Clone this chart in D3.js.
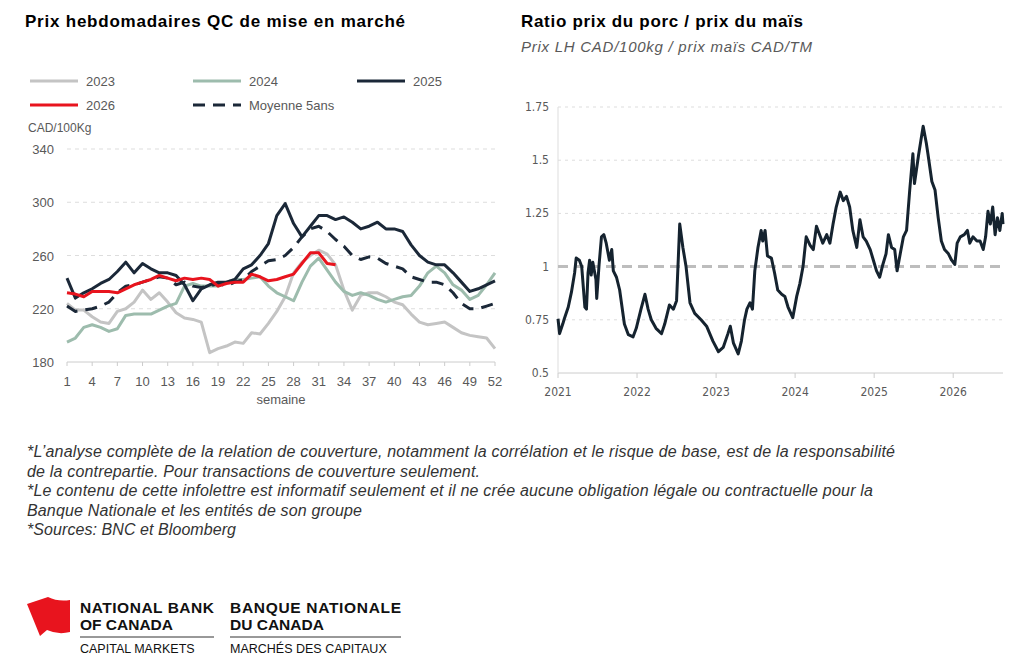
<!DOCTYPE html>
<html><head><meta charset="utf-8">
<script src="https://cdn.jsdelivr.net/npm/d3@7"></script>
<style>body{margin:0;background:#fff;font-family:"Liberation Sans",Arial,sans-serif}</style>
</head><body><svg id="c" width="1024" height="663"></svg>
<script>
const weeks = d3.range(1,53);
const s2023 = [224,219,219,214,210,209,218,220,225,234,227,232,225,217,213,212,210,187,190,192,195,194,202,201,209,218,229,247,255,260,264,261,253,234,219,230,232,232,229,225,223,216,210,208,209,210,206,202,200,199,198,190];
const s2024 = [195,198,206,208,206,203,205,215,216,216,216,219,222,224,237,239,237,237,237,240,242,242,243,244,237,232,229,226,240,252,258,249,240,233,230,232,230,227,225,227,229,230,237,247,252,247,238,234,227,230,238,247];
const s2025 = [243,228,232,235,239,242,248,255,247,254,250,247,247,245,238,226,235,238,240,240,242,250,253,260,269,290,299,284,274,282,290,290,287,289,285,280,282,285,280,280,278,268,260,255,253,253,247,240,233,235,238,241];
const s2026 = [232,231,229,233,233,233,232,235,238,240,242,245,243,241,243,242,243,242,237,239,240,240,246,244,241,242,244,246,254,262,262,254,253];
const sAvg = [222,218,219,220,222,225,232,237,238,240,242,244,243,238,240,237,236,237,239,237,240,242,248,252,256,257,260,266,274,280,282,278,272,267,260,257,259,258,254,252,250,244,242,240,240,238,232,224,220,220,222,224];
const leftTicksY = [180,220,260,300,340];
const leftTicksX = [1,4,7,10,13,16,19,22,25,28,31,34,37,40,43,46,49,52];
const ratioDates = [2021.00,2021.02,2021.06,2021.08,2021.13,2021.17,2021.21,2021.23,2021.27,2021.30,2021.34,2021.36,2021.38,2021.40,2021.42,2021.44,2021.48,2021.49,2021.52,2021.55,2021.58,2021.61,2021.65,2021.68,2021.70,2021.74,2021.78,2021.84,2021.89,2021.95,2021.99,2022.05,2022.10,2022.14,2022.18,2022.24,2022.31,2022.35,2022.41,2022.46,2022.50,2022.54,2022.58,2022.62,2022.67,2022.73,2022.81,2022.88,2022.96,2023.03,2023.09,2023.15,2023.18,2023.22,2023.28,2023.32,2023.36,2023.39,2023.43,2023.46,2023.49,2023.53,2023.57,2023.59,2023.62,2023.65,2023.70,2023.74,2023.78,2023.83,2023.87,2023.91,2023.97,2024.02,2024.06,2024.10,2024.14,2024.19,2024.23,2024.27,2024.31,2024.35,2024.40,2024.44,2024.48,2024.52,2024.57,2024.61,2024.65,2024.69,2024.73,2024.78,2024.82,2024.86,2024.90,2024.95,2024.99,2025.03,2025.07,2025.11,2025.15,2025.18,2025.22,2025.26,2025.29,2025.33,2025.37,2025.41,2025.45,2025.49,2025.51,2025.56,2025.59,2025.62,2025.66,2025.68,2025.73,2025.77,2025.81,2025.85,2025.89,2025.94,2025.98,2026.02,2026.05,2026.09,2026.14,2026.18,2026.21,2026.25,2026.30,2026.34,2026.38,2026.41,2026.44,2026.47,2026.50,2026.53,2026.56,2026.59,2026.62,2026.63];
const ratioValues = [0.755,0.685,0.73,0.755,0.81,0.88,0.97,1.04,1.03,1.0,0.81,0.80,0.97,1.03,0.96,1.02,0.94,0.85,1.01,1.14,1.15,1.11,1.03,1.08,0.98,0.95,0.89,0.73,0.68,0.67,0.71,0.80,0.87,0.80,0.75,0.71,0.685,0.73,0.82,0.80,0.84,1.20,1.09,1.0,0.83,0.78,0.75,0.72,0.65,0.60,0.62,0.685,0.72,0.64,0.59,0.65,0.75,0.80,0.83,0.80,0.98,1.09,1.17,1.12,1.17,1.05,1.04,0.97,0.89,0.87,0.86,0.81,0.76,0.86,0.92,1.0,1.14,1.10,1.08,1.19,1.15,1.11,1.15,1.11,1.20,1.28,1.35,1.31,1.33,1.28,1.17,1.09,1.22,1.14,1.12,1.08,1.03,0.98,0.95,1.01,1.06,1.15,1.09,1.08,0.98,1.06,1.14,1.17,1.36,1.53,1.39,1.52,1.59,1.66,1.58,1.53,1.40,1.36,1.23,1.12,1.08,1.06,1.03,1.01,1.11,1.14,1.15,1.17,1.11,1.14,1.12,1.12,1.08,1.14,1.26,1.20,1.28,1.15,1.23,1.17,1.25,1.20];
const rightTicksY = [0.5,0.75,1,1.25,1.5,1.75];
const rightTicksX = [2021,2022,2023,2024,2025,2026];
const footnotes = ["*L’analyse complète de la relation de couverture, notamment la corrélation et le risque de base, est de la responsabilité","de la contrepartie. Pour transactions de couverture seulement.","*Le contenu de cette infolettre est informatif seulement et il ne crée aucune obligation légale ou contractuelle pour la","Banque Nationale et les entités de son groupe","*Sources: BNC et Bloomberg"];
const footWidths = [868,453,846,335,209];

const svg = d3.select("#c");
const tc = "#595959";
svg.append("text").attr("x",25).attr("y",27).attr("font-size",17).attr("font-weight","bold").attr("textLength",380).text("Prix hebdomadaires QC de mise en marché");
svg.append("text").attr("x",521).attr("y",27).attr("font-size",17).attr("font-weight","bold").attr("textLength",282).text("Ratio prix du porc / prix du maïs");
svg.append("text").attr("x",521).attr("y",52).attr("font-size",15).attr("font-style","italic").attr("fill",tc).attr("textLength",291).text("Prix LH CAD/100kg / prix maïs CAD/TM");

const x1 = d3.scaleLinear().domain([1,52]).range([67,495]);
const y1 = d3.scaleLinear().domain([180,340]).range([362,149]);
const g1 = svg.append("g");
leftTicksY.forEach(v=>{
  if(v>180) g1.append("line").attr("x1",67).attr("x2",495).attr("y1",y1(v)).attr("y2",y1(v)).attr("stroke","#ddd").attr("stroke-dasharray","4,4");
  g1.append("text").attr("x",54).attr("y",y1(v)+5).attr("text-anchor","end").attr("font-size",13).attr("fill",tc).text(v);
});
g1.append("line").attr("x1",67).attr("x2",495).attr("y1",362).attr("y2",362).attr("stroke","#ccc");
leftTicksX.forEach(v=>{
  g1.append("line").attr("x1",x1(v)).attr("x2",x1(v)).attr("y1",362).attr("y2",366).attr("stroke","#ccc");
  g1.append("text").attr("x",x1(v)).attr("y",386).attr("text-anchor","middle").attr("font-size",13).attr("fill",tc).text(v);
});
g1.append("text").attr("x",281).attr("y",404).attr("text-anchor","middle").attr("font-size",13).attr("fill",tc).text("semaine");
g1.append("text").attr("x",28).attr("y",132).attr("font-size",12).attr("fill",tc).text("CAD/100Kg");
const ln = d3.line().x((d,i)=>x1(i+1)).y(d=>y1(d));
const series = [
 {n:"2023",d:s2023,c:"#c4c4c4",da:null,lx:30,ly:81},
 {n:"2024",d:s2024,c:"#9dbcad",da:null,lx:193,ly:81},
 {n:"Moyenne 5ans",d:sAvg,c:"#1b2838",da:"12,8",lx:193,ly:105},
 {n:"2025",d:s2025,c:"#1b2838",da:null,lx:357,ly:81},
 {n:"2026",d:s2026,c:"#e8141e",da:null,lx:30,ly:105}
];
series.forEach(s=>{
  g1.append("path").attr("d",ln(s.d)).attr("fill","none").attr("stroke",s.c).attr("stroke-width",3).attr("stroke-dasharray",s.da).attr("stroke-linejoin","round");
  g1.append("line").attr("x1",s.lx).attr("x2",s.lx+48).attr("y1",s.ly).attr("y2",s.ly).attr("stroke",s.c).attr("stroke-width",3).attr("stroke-dasharray",s.da);
  g1.append("text").attr("x",s.lx+56).attr("y",s.ly+5).attr("font-size",13).attr("fill",tc).text(s.n);
});

const x2 = d3.scaleLinear().domain([2021,2026.63]).range([558,1003]);
const y2 = d3.scaleLinear().domain([0.5,1.75]).range([373,107]);
const g2 = svg.append("g").attr("font-family","'DejaVu Sans Condensed','DejaVu Sans',sans-serif");
rightTicksY.forEach(v=>{
  if(v>0.5 && v!==1) g2.append("line").attr("x1",558).attr("x2",1003).attr("y1",y2(v)).attr("y2",y2(v)).attr("stroke","#ddd").attr("stroke-dasharray","3,4");
  g2.append("text").attr("x",549).attr("y",y2(v)+4).attr("text-anchor","end").attr("font-size",12).attr("fill",tc).text(v);
});
g2.append("line").attr("x1",558).attr("x2",1003).attr("y1",373).attr("y2",373).attr("stroke","#ccc");
g2.append("line").attr("x1",558).attr("x2",558).attr("y1",107).attr("y2",373).attr("stroke","#ddd");
rightTicksX.forEach(v=>{
  g2.append("line").attr("x1",x2(v)).attr("x2",x2(v)).attr("y1",373).attr("y2",378).attr("stroke","#ccc");
  g2.append("text").attr("x",x2(v)).attr("y",396).attr("text-anchor","middle").attr("font-size",12).attr("fill",tc).text(v);
});
g2.append("line").attr("x1",558).attr("x2",1000).attr("y1",y2(1)).attr("y2",y2(1)).attr("stroke","#bdbdbd").attr("stroke-width",3).attr("stroke-dasharray","10,6");
const ln2 = d3.line().x((d,i)=>x2(ratioDates[i])).y(d=>y2(d));
g2.append("path").attr("d",ln2(ratioValues)).attr("fill","none").attr("stroke","#15232f").attr("stroke-width",3).attr("stroke-linejoin","round");

footnotes.forEach((t,i)=>svg.append("text").attr("x",27).attr("y",457+i*19.5).attr("font-size",16).attr("font-style","italic").attr("fill","#333").attr("textLength",footWidths[i]).text(t));

svg.append("path").attr("d","M27,604 L48,597 Q58,602 70,600 L70,632 Q58,635 47,630 L40,636 Z").attr("fill","#e8141e");
const lg = svg.append("g").attr("fill","#111");
[["NATIONAL BANK",80,613,true,134],["OF CANADA",80,630,true,null],["BANQUE NATIONALE",230,613,true,171],["DU CANADA",230,630,true,null],["CAPITAL MARKETS",80,653,false,null],["MARCHÉS DES CAPITAUX",230,653,false,null]].forEach(d=>{
  const t = lg.append("text").attr("x",d[1]).attr("y",d[2]).attr("font-weight",d[3]?"bold":"normal").attr("font-size",d[3]?15.5:12.5).text(d[0]);
  if(d[4]) t.attr("textLength",d[4]);
});
svg.append("line").attr("x1",80).attr("x2",214).attr("y1",637).attr("y2",637).attr("stroke","#333");
svg.append("line").attr("x1",230).attr("x2",401).attr("y1",637).attr("y2",637).attr("stroke","#333");
</script></body></html>
